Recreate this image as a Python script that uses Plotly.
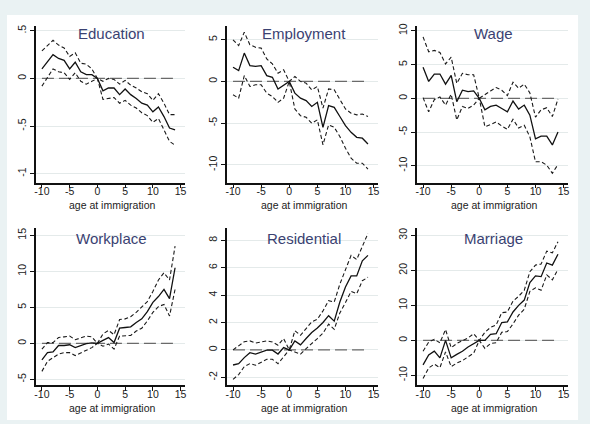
import plotly.graph_objects as go

ages = list(range(-10, 15))

edu_est = [0.10, 0.17, 0.25, 0.21, 0.19, 0.10, 0.17, 0.07, 0.04, 0.04, 0.0, -0.13, -0.10, -0.10, -0.17, -0.11, -0.17, -0.21, -0.26, -0.28, -0.35, -0.30, -0.40, -0.52, -0.54]
edu_hi = [0.29, 0.34, 0.40, 0.35, 0.32, 0.23, 0.27, 0.16, 0.15, 0.10, 0.0, -0.03, 0.0, -0.01, -0.06, -0.02, -0.07, -0.10, -0.14, -0.16, -0.23, -0.16, -0.26, -0.38, -0.38]
edu_lo = [-0.08, 0.01, 0.10, 0.07, 0.06, -0.01, 0.06, -0.03, -0.06, -0.03, 0.0, -0.22, -0.21, -0.20, -0.26, -0.23, -0.28, -0.31, -0.36, -0.39, -0.46, -0.42, -0.54, -0.66, -0.70]

emp_est = [1.7, 1.3, 3.4, 1.9, 1.8, 1.9, 0.7, 0.5, -0.9, -0.5, 0.0, -1.4, -2.0, -2.3, -3.0, -2.5, -5.5, -2.9, -3.1, -4.2, -5.3, -6.1, -6.7, -6.8, -7.5]
emp_hi = [5.0, 4.3, 5.9, 4.4, 4.1, 4.0, 2.7, 2.1, 1.0, 1.4, 0.0, 0.6, 0.0, -0.2, -1.0, -0.6, -3.2, -0.9, -1.0, -2.1, -3.3, -3.8, -4.0, -3.9, -4.2]
emp_lo = [-1.6, -2.0, 0.7, -0.6, -0.4, -0.4, -1.4, -1.8, -2.5, -2.0, 0.0, -3.3, -4.1, -4.3, -5.0, -4.6, -7.6, -5.2, -5.5, -6.6, -8.0, -9.2, -9.8, -9.8, -10.5]

wage_est = [4.6, 2.5, 3.6, 3.6, 2.1, 3.4, -0.5, 1.2, 1.0, 1.1, 0.0, -1.7, -1.2, -1.0, -1.5, -2.0, -0.4, -1.6, -1.0, -2.5, -6.0, -5.6, -5.6, -6.9, -5.0]
wage_hi = [9.1, 6.9, 7.1, 6.8, 5.1, 6.1, 2.2, 3.7, 3.5, 3.5, 0.0, 0.6, 1.1, 1.6, 1.2, 0.4, 2.4, 1.5, 2.1, 0.8, -2.8, -1.7, -1.4, -2.7, -0.1]
wage_lo = [0.1, -2.0, -0.2, 0.2, -1.0, 0.6, -3.2, -1.2, -1.5, -1.0, 0.0, -4.2, -3.9, -3.5, -4.1, -4.6, -3.1, -4.4, -4.0, -5.7, -9.4, -9.4, -9.9, -11.1, -9.8]

work_est = [-2.3, -1.3, -1.2, -0.3, -0.3, -0.2, -0.6, -0.3, -0.05, 0.05, 0.0, 0.4, 0.8, 0.1, 2.1, 2.2, 2.3, 2.9, 3.4, 4.4, 5.7, 6.5, 7.5, 6.2, 10.5]
work_hi = [-0.8, 0.1, 0.1, 0.8, 0.9, 1.0, 0.5, 0.7, 1.0, 0.9, 0.0, 1.3, 1.8, 1.2, 3.3, 3.4, 3.7, 4.3, 5.0, 5.8, 7.2, 8.8, 9.8, 8.8, 13.5]
work_lo = [-3.9, -2.5, -2.0, -1.5, -1.3, -1.3, -1.7, -1.3, -1.0, -0.6, 0.0, -0.4, -0.1, -0.8, 1.0, 1.0, 1.1, 1.7, 2.1, 3.1, 4.3, 5.1, 5.4, 3.8, 7.5]

res_est = [-1.1, -1.0, -0.56, -0.2, -0.3, -0.15, -0.02, -0.02, -0.3, 0.17, 0.0, 0.66, 0.37, 0.83, 1.27, 1.6, 2.0, 2.5, 2.1, 3.5, 4.6, 5.4, 5.4, 6.5, 6.9]
res_hi = [0.0, 0.3, 0.6, 0.66, 0.5, 0.58, 0.66, 0.58, 0.34, 0.83, 0.0, 1.4, 1.07, 1.56, 2.05, 2.24, 2.85, 3.6, 3.5, 4.8, 5.8, 6.9, 6.6, 7.6, 8.5]
res_lo = [-2.15, -1.8, -1.22, -1.0, -1.12, -0.88, -0.68, -0.68, -1.0, -0.5, 0.0, -0.15, -0.3, 0.1, 0.5, 0.83, 1.22, 1.88, 1.5, 2.7, 3.46, 4.27, 4.1, 5.05, 5.3]

mar_est = [-7.0, -4.2, -3.1, -5.0, 0.0, -5.0, -4.0, -3.1, -1.9, -0.9, 0.0, 0.0, 1.7, 1.9, 5.1, 5.3, 8.1, 10.0, 11.5, 16.5, 18.4, 18.2, 22.1, 21.5, 24.6]
mar_hi = [-3.1, -0.5, 0.3, -0.7, 3.1, -2.1, -0.9, 0.0, 0.7, 1.9, 0.0, 2.3, 3.7, 4.4, 7.9, 8.1, 11.2, 12.6, 14.3, 19.6, 21.5, 21.8, 25.5, 25.0, 28.2]
mar_lo = [-10.9, -7.9, -6.8, -7.8, -3.3, -7.5, -6.5, -5.8, -4.7, -3.7, 0.0, -2.3, -0.9, -0.7, 2.3, 2.5, 4.7, 7.2, 8.9, 14.0, 15.0, 14.3, 18.7, 17.3, 20.3]

titles = ["Education", "Employment", "Wage", "Workplace", "Residential", "Marriage"]
x_ticks = [-10, -5, 0, 5, 10, 15]
x_ticklabels = ["-10", "-5", "0", "5", "10", "15"]

edu_ticks = [-1, -0.5, 0, 0.5]
edu_ticklabels = ["-1", "-.5", "0", ".5"]
emp_ticks = [-10, -5, 0, 5]
emp_ticklabels = ["-10", "-5", "0", "5"]
wage_ticks = [-10, -5, 0, 5, 10]
wage_ticklabels = ["-10", "-5", "0", "5", "10"]
work_ticks = [-5, 0, 5, 10, 15]
work_ticklabels = ["-5", "0", "5", "10", "15"]
res_ticks = [-2, 0, 2, 4, 6, 8]
res_ticklabels = ["-2", "0", "2", "4", "6", "8"]
mar_ticks = [-10, 0, 10, 20, 30]
mar_ticklabels = ["-10", "0", "10", "20", "30"]

# ---- layout / style ----
W, H = 590, 424
FONT = "Liberation Sans, Arial, sans-serif"
TITLE_COLOR = "#3a4272"
OUTER_BG = "#eaf2f3"
GRID = "#e4eaea"

series = [
    (edu_est, edu_hi, edu_lo, edu_ticks, edu_ticklabels, [-1.094, 0.552]),
    (emp_est, emp_hi, emp_lo, emp_ticks, emp_ticklabels, [-12.14, 6.67]),
    (wage_est, wage_hi, wage_lo, wage_ticks, wage_ticklabels, [-12.5, 10.74]),
    (work_est, work_hi, work_lo, work_ticks, work_ticklabels, [-5.83, 15.97]),
    (res_est, res_hi, res_lo, res_ticks, res_ticklabels, [-2.58, 8.87]),
    (mar_est, mar_hi, mar_lo, mar_ticks, mar_ticklabels, [-12.84, 31.99]),
]

col_px = [(35, 185), (227, 379), (418, 570)]
row_px = [(23, 181), (227, 385)]

fig = go.Figure()
layout = dict(
    width=W, height=H, margin=dict(l=0, r=0, t=0, b=0),
    paper_bgcolor=OUTER_BG, plot_bgcolor="white",
    showlegend=False, font=dict(family=FONT, color="#222", size=11),
    shapes=[dict(type="rect", xref="paper", yref="paper",
                 x0=6 / W, x1=580 / W, y0=1 - 420 / H, y1=1 - 12 / H,
                 fillcolor="white", line=dict(width=0), layer="below")],
    annotations=[],
)

for i, (est, hi, lo, yt, ytl, yr) in enumerate(series):
    r, c = divmod(i, 3)
    n = i + 1
    xa = "x" if n == 1 else f"x{n}"
    ya = "y" if n == 1 else f"y{n}"
    xkey = "xaxis" if n == 1 else f"xaxis{n}"
    ykey = "yaxis" if n == 1 else f"yaxis{n}"
    x0p, x1p = col_px[c]
    t0p, b0p = row_px[r]

    # zero reference line
    fig.add_trace(go.Scatter(x=[ages[0], ages[-1]], y=[0, 0], mode="lines",
                             line=dict(color="#6a6a6a", width=1.2, dash="12px,5px"),
                             xaxis=xa, yaxis=ya, hoverinfo="skip"))
    for ci in (hi, lo):
        fig.add_trace(go.Scatter(x=ages, y=ci, mode="lines",
                                 line=dict(color="#1a1a1a", width=1.1, dash="4px,2.5px"),
                                 xaxis=xa, yaxis=ya))
    fig.add_trace(go.Scatter(x=ages, y=est, mode="lines",
                             line=dict(color="#111", width=1.3),
                             xaxis=xa, yaxis=ya))

    layout[xkey] = dict(
        domain=[x0p / W, x1p / W], anchor=ya, range=[-11.1, 15.8],
        tickvals=x_ticks, ticktext=x_ticklabels, ticks="outside", ticklen=4,
        tickwidth=1.2, tickcolor="#111", showline=True, linecolor="#111",
        linewidth=1.5, showgrid=False, zeroline=False,
        tickfont=dict(size=10.5, color="#222"), ticklabelstandoff=-6,
    )
    layout[ykey] = dict(
        domain=[1 - b0p / H, 1 - t0p / H], anchor=xa, range=yr,
        tickvals=yt, ticktext=ytl, ticks="outside", ticklen=4,
        tickwidth=1.2, tickcolor="#111", showline=True, linecolor="#111",
        linewidth=1.5, showgrid=True, gridcolor=GRID, gridwidth=1,
        zeroline=False, tickangle=-90, tickfont=dict(size=10.5, color="#222"),
    )
    cx = (x0p + x1p) / 2 / W
    title_y = 31 if r == 0 else 237
    xt_y = 203 if r == 0 else 408
    layout["annotations"].append(dict(
        text=titles[i], xref="paper", yref="paper", x=cx + 1.5 / W, y=1 - title_y / H,
        xanchor="center", yanchor="middle", showarrow=False,
        font=dict(size=15, color=TITLE_COLOR, family=FONT)))
    layout["annotations"].append(dict(
        text="age at immigration", xref="paper", yref="paper", x=cx + 2 / W, y=1 - xt_y / H,
        xanchor="center", yanchor="middle", showarrow=False,
        font=dict(size=10.5, color="#222", family=FONT)))

fig.update_layout(**layout)
fig.write_html("out.html", config={"displayModeBar": False})
